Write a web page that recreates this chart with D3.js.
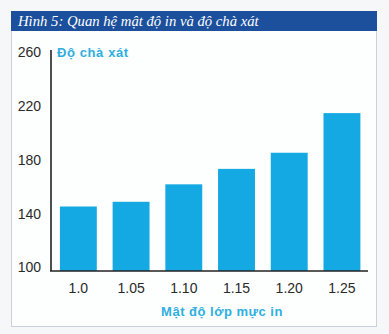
<!DOCTYPE html>
<html>
<head>
<meta charset="utf-8">
<script src="https://cdn.jsdelivr.net/npm/d3@7"></script>
<style>
  html, body { margin: 0; padding: 0; background: #f5f7f8; }
  svg { display: block; }
</style>
</head>
<body>
<svg id="chart" width="389" height="334"></svg>
<script>
// Mật độ lớp mực in vs. độ chà xát
const categories = ["1.0", "1.05", "1.10", "1.15", "1.20", "1.25"];
const rubValues = [148, 151.5, 164.5, 176, 188, 217.5];
const yTicks = [100, 140, 180, 220, 260];

const titleText = "Hình 5: Quan hệ mật độ in và độ chà xát";
const yTitle = "Độ chà xát";
const xTitle = "Mật độ lớp mực in";

const svg = d3.select("#chart");

// card panel
svg.append("rect")
  .attr("x", 11.5).attr("y", 11.5).attr("width", 365).attr("height", 315)
  .attr("fill", "#fdfefe").attr("stroke", "#c9d2da").attr("stroke-width", 1);

// title band
svg.append("rect")
  .attr("x", 11).attr("y", 11).attr("width", 366).attr("height", 20)
  .attr("fill", "#1c4f9c");
svg.append("text")
  .attr("x", 18).attr("y", 26)
  .attr("fill", "#ffffff")
  .attr("font-family", "Liberation Serif, DejaVu Serif, serif")
  .attr("font-style", "italic")
  .attr("font-size", 14.7)
  .text(titleText);

const x = d3.scaleBand()
  .domain(categories)
  .range([52, 368.3])
  .paddingInner(0.3)
  .paddingOuter(0.15);

const y = d3.scaleLinear()
  .domain([100, 260])
  .range([271, 56]);

const cyan = "#14a9e2";

// bars
svg.append("g").selectAll("rect")
  .data(rubValues)
  .join("rect")
  .attr("x", (d, i) => x(categories[i]))
  .attr("width", x.bandwidth())
  .attr("y", d => y(d))
  .attr("height", d => y(100) - y(d))
  .attr("fill", cyan);

// y axis (labels sit slightly above their ticks)
const yAxis = svg.append("g")
  .attr("transform", "translate(51,0)")
  .call(d3.axisLeft(y).tickValues(yTicks).tickSize(0).tickPadding(10));
yAxis.select(".domain").attr("stroke", "#222").attr("stroke-width", 1.6)
  .attr("d", `M0,${y(100)}V50`);
yAxis.selectAll("text")
  .attr("font-family", "Liberation Sans, Arial, sans-serif")
  .attr("font-size", 14)
  .attr("fill", "#2a2a2a")
  .attr("dy", "0.06em");

// x axis
const xAxis = svg.append("g")
  .attr("transform", `translate(0,${y(100)})`)
  .call(d3.axisBottom(x).tickSize(0).tickPadding(12));
xAxis.select(".domain").attr("stroke", "#222").attr("stroke-width", 1.6)
  .attr("d", "M50,0H368");
xAxis.selectAll("text")
  .attr("font-family", "Liberation Sans, Arial, sans-serif")
  .attr("font-size", 14)
  .attr("fill", "#2a2a2a");

// axis titles
svg.append("text")
  .attr("x", 57).attr("y", 57)
  .attr("fill", "#2eafe0")
  .attr("font-family", "Liberation Sans Narrow, Liberation Sans, Arial, sans-serif")
  .attr("font-weight", "bold")
  .attr("font-size", 13)
  .attr("letter-spacing", 0.6)
  .text(yTitle);

svg.append("text")
  .attr("x", 222).attr("y", 316)
  .attr("text-anchor", "middle")
  .attr("fill", "#2eafe0")
  .attr("font-family", "Liberation Sans Narrow, Liberation Sans, Arial, sans-serif")
  .attr("font-weight", "bold")
  .attr("font-size", 13)
  .attr("letter-spacing", 0.5)
  .text(xTitle);
</script>
</body>
</html>
